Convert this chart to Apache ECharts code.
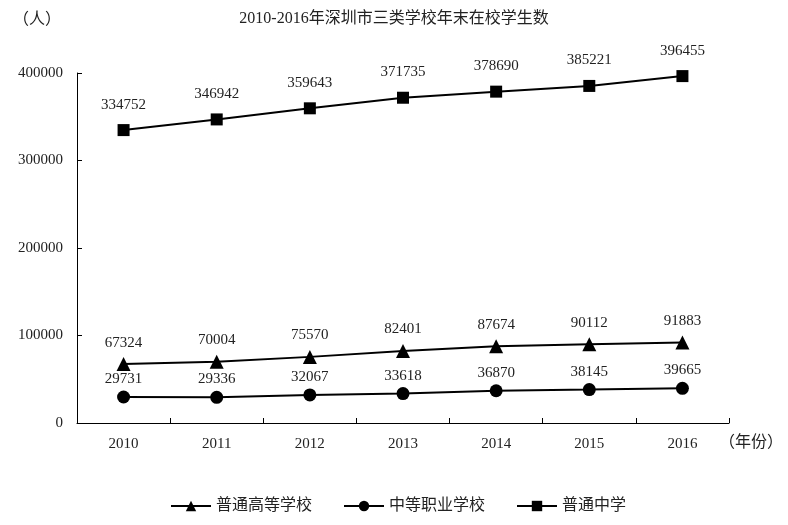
<!DOCTYPE html>
<html><head><meta charset="utf-8">
<script src="https://cdn.jsdelivr.net/npm/echarts@6/dist/echarts.min.js"></script>
<style>html,body{margin:0;padding:0;background:#fff}#c{width:788px;height:525px}</style>
</head><body><div id="c"></div>
<script>
const years = ['2010','2011','2012','2013','2014','2015','2016'];
const higher = [67324,70004,75570,82401,87674,90112,91883];
const vocational = [29731,29336,32067,33618,36870,38145,39665];
const middle = [334752,346942,359643,371735,378690,385221,396455];
const yTicks = [0,100000,200000,300000,400000];

const FONT = '"Liberation Serif","Noto Sans CJK SC",serif';
function mk(name, data, symbol, dist, size){
  return {
    name, type:'line', data, symbol, symbolSize:size,
    lineStyle:{color:'#000',width:2}, itemStyle:{color:'#000'},
    label:{show:true,position:'top',distance:dist,color:'#222',fontFamily:FONT,fontSize:15},
    animation:false
  };
}
const chart = echarts.init(document.getElementById('c'));
chart.setOption({
  animation:false,
  title:{text:'2010-2016年深圳市三类学校年末在校学生数',left:'center',top:6,
    textStyle:{fontFamily:FONT,fontSize:16,fontWeight:'normal',color:'#222'}},
  legend:{bottom:6,left:165,itemWidth:40,itemHeight:13,itemGap:31,
    textStyle:{fontFamily:FONT,fontSize:16,color:'#222'},
    data:['普通高等学校','中等职业学校','普通中学']},
  grid:{left:77,right:59,top:73,bottom:102,outerBoundsMode:'none',containLabel:false},
  xAxis:{type:'category',data:years,boundaryGap:true,
    name:'（年份）',nameLocation:'end',nameGap:-10,
    nameTextStyle:{fontFamily:FONT,fontSize:16,color:'#222',verticalAlign:'top',padding:[12,0,0,0]},
    axisLine:{lineStyle:{color:'#000',width:1}},
    axisTick:{show:true,inside:true,length:5,lineStyle:{color:'#000'}},
    axisLabel:{fontFamily:FONT,fontSize:15,color:'#222',margin:14}},
  yAxis:{type:'value',min:0,max:400000,interval:100000,
    name:'（人）',nameLocation:'end',nameGap:45,
    nameTextStyle:{fontFamily:FONT,fontSize:16,color:'#222',align:'right',padding:[0,16,0,0]},
    axisLine:{show:true,lineStyle:{color:'#000',width:1}},
    axisTick:{show:true,inside:true,length:5,lineStyle:{color:'#000'}},
    splitLine:{show:false},
    axisLabel:{fontFamily:FONT,fontSize:15,color:'#222',margin:14,
      formatter:v=>yTicks.includes(v)?String(v):''}},
  series:[
    mk('普通高等学校',higher,'triangle',7,14),
    mk('中等职业学校',vocational,'circle',4,13),
    mk('普通中学',middle,'rect',12,12)
  ]
});
</script></body></html>
